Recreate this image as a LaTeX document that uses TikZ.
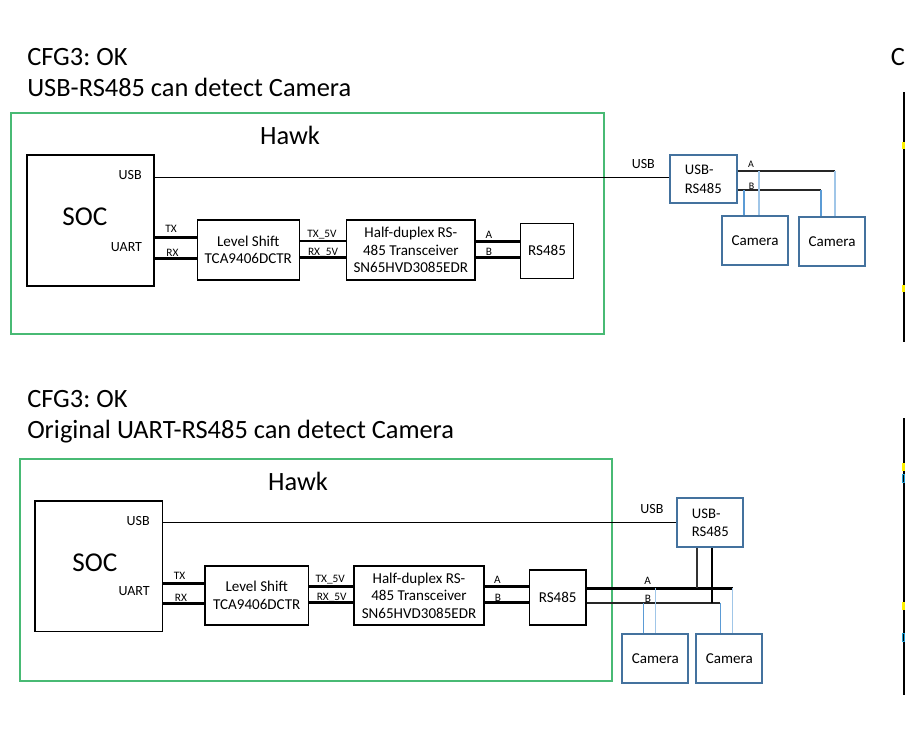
\documentclass[tikz,border=0pt]{standalone}
\usepackage{fontspec}
\setmainfont{Carlito}
\usepackage{tikz}
\usetikzlibrary{positioning,calc}
\usepackage{xcolor}
\frenchspacing
\definecolor{hawkgreen}{RGB}{72,186,116}
\definecolor{extblue}{RGB}{68,114,158}
\definecolor{tapdark}{RGB}{91,155,213}
\definecolor{taplight}{RGB}{160,198,232}
\tikzset{
    hawkBox/.style={
        draw=hawkgreen,
        line width=1.1pt
    },
    blockBox/.style={
        draw=black,
        line width=0.9pt,
        align=center,
        inner sep=0pt,
        font=\fontsize{11.3}{13.2}\selectfont
    },
    extBox/.style={blockBox, draw=extblue, line width=1.3pt},
    pinLabel/.style={inner sep=0pt, font=\fontsize{10.5}{13}\selectfont},
    sigLabel/.style={inner sep=0pt, font=\fontsize{8.5}{10}\selectfont},
    titleText/.style={inner sep=0pt, align=left, font=\fontsize{19.8}{23.4}\selectfont},
    wire/.style={line width=0.8pt},
    sig/.style={line width=2.2pt},
    busline/.style={line width=1.5pt, black!85},
    tapDark/.style={line width=0.8pt, tapdark},
    tapLight/.style={line width=0.8pt, taplight},
}

\begin{document}
\begin{tikzpicture}[x=0.75pt, y=-0.75pt]
    \useasboundingbox (0,0) rectangle (905,744);

    % ---- CFG3 with USB-RS485 ----
    \node[titleText, anchor=west] (capA) at (27,72.5) {CFG3: OK\\USB-RS485 can detect Camera};
    \node[hawkBox, minimum width=444.75pt, minimum height=165.75pt] (hawkA) at (307.5,223.5) {};
    \node[titleText] (hawkAlbl) at (290,135) {Hawk};

    \node[blockBox, minimum width=95.25pt, minimum height=98.25pt] (socA) at (90.5,220.5) {};
    \node[inner sep=0pt, font=\fontsize{20.4}{24}\selectfont] (socAlbl) at (85,217) {SOC};
    \node[pinLabel, anchor=east] (socAusb) at (142,175) {USB};
    \node[pinLabel, anchor=east] (socAuart) at (142.3,246.7) {UART};

    \node[blockBox, minimum width=76.5pt, minimum height=45pt] (lsA) at (248.3,250) {Level Shift\\TCA9406DCTR};
    \node[blockBox, minimum width=96.25pt, minimum height=45pt] (trA) at (410.8,250) {Half-duplex RS-\\485 Transceiver\\SN65HVD3085EDR};
    \node[blockBox, minimum width=39.25pt, minimum height=41.25pt] (rsA) at (547,250.8) {RS485};

    \node[extBox, align=left, minimum width=50pt, minimum height=36pt, font=\fontsize{11}{14}\selectfont] (urA) at (703.3,179) {USB-\\RS485};
    \node[extBox, minimum width=49.5pt, minimum height=36.75pt] (camA) at (755,240.5) {Camera};
    \node[extBox, minimum width=49.5pt, minimum height=36.75pt] (camB) at (832,241.5) {Camera};

    \draw[wire] (socA.east |- 0,177.3) -- (urA.west |- 0,177.3);
    \node[pinLabel] (usbAlbl) at (643.3,164) {USB};

    \draw[sig] (socA.east |- 0,237.3) -- (lsA.west |- 0,237.3);
    \draw[sig] (socA.east |- 0,258.3) -- (lsA.west |- 0,258.3);
    \node[sigLabel] (txA) at (171,229.3) {TX};
    \node[sigLabel] (rxA) at (172.5,252.7) {RX};

    \draw[sig] (lsA.east |- 0,241) -- (trA.west |- 0,241);
    \draw[sig] (lsA.east |- 0,257.7) -- (trA.west |- 0,257.7);
    \node[sigLabel] (tx5A) at (322,235) {TX\_5V};
    \node[sigLabel] (rx5A) at (323,252.7) {RX\_5V};

    \draw[sig] (trA.east |- 0,241.7) -- (rsA.west |- 0,241.7);
    \draw[sig] (trA.east |- 0,257.7) -- (rsA.west |- 0,257.7);
    \node[sigLabel] (lineAa) at (489,235) {A};
    \node[sigLabel] (lineAb) at (489,251.7) {B};

    % bus to the cameras
    \coordinate (busAa) at (835,171);
    \coordinate (busAb) at (821,190);
    \draw[busline] (urA.east |- busAa) -- (busAa);
    \draw[busline] (urA.east |- busAb) -- (busAb);
    \node[sigLabel, font=\fontsize{7.5}{9}\selectfont] (busAalbl) at (751,164) {A};
    \node[sigLabel, font=\fontsize{7.5}{9}\selectfont] (busAblbl) at (751.7,186) {B};
    \draw[tapLight] (busAa) -- (camB.north -| busAa);
    \draw[tapDark] (busAb) -- (camB.north -| busAb);
    \draw[tapLight] (busAa -| 759,0) -- (camA.north -| 759,0);
    \draw[tapDark] (busAb -| 744,0) -- (camA.north -| 744,0);

    % ---- CFG3 with original UART-RS485 ----
    \node[titleText, anchor=west] (capB) at (27,416.5) {CFG3: OK\\Original UART-RS485 can detect Camera};
    \node[hawkBox, minimum width=444pt, minimum height=166.5pt] (hawkB) at (316,570) {};
    \node[titleText] (hawkBlbl) at (298,481) {Hawk};

    \node[blockBox, minimum width=95.75pt, minimum height=98pt] (socB) at (98.8,566.3) {};
    \node[inner sep=0pt, font=\fontsize{20.4}{24}\selectfont] (socBlbl) at (95,563) {SOC};
    \node[pinLabel, anchor=east] (socBusb) at (150,521) {USB};
    \node[pinLabel, anchor=east] (socBuart) at (150,591) {UART};

    \node[blockBox, minimum width=77.5pt, minimum height=44.25pt] (lsB) at (256.7,595.5) {Level Shift\\TCA9406DCTR};
    \node[blockBox, minimum width=97.5pt, minimum height=44.25pt] (trB) at (419,595.5) {Half-duplex RS-\\485 Transceiver\\SN65HVD3085EDR};
    \node[blockBox, minimum width=42.5pt, minimum height=41.25pt] (rsB) at (557.7,597.5) {RS485};

    \node[extBox, align=left, minimum width=49.5pt, minimum height=36.75pt, font=\fontsize{11}{12.8}\selectfont] (urB) at (710.3,522.8) {USB-\\RS485};
    \node[extBox, minimum width=49.5pt, minimum height=36.5pt] (camC) at (655.3,658.3) {Camera};
    \node[extBox, minimum width=49.5pt, minimum height=36.5pt] (camD) at (729.3,658.3) {Camera};

    \draw[wire] (socB.east |- 0,522.8) -- (urB.west |- 0,522.8);
    \node[pinLabel] (usbBlbl) at (652,509.3) {USB};

    \draw[sig] (socB.east |- 0,583.3) -- (lsB.west |- 0,583.3);
    \draw[sig] (socB.east |- 0,603.3) -- (lsB.west |- 0,603.3);
    \node[sigLabel] (txB) at (179.5,575.7) {TX};
    \node[sigLabel] (rxB) at (181,597.7) {RX};

    \draw[sig] (lsB.east |- 0,586.7) -- (trB.west |- 0,586.7);
    \draw[sig] (lsB.east |- 0,602.7) -- (trB.west |- 0,602.7);
    \node[sigLabel] (tx5B) at (330.3,580) {TX\_5V};
    \node[sigLabel] (rx5B) at (331.7,597.7) {RX\_5V};

    \draw[sig] (trB.east |- 0,586.7) -- (rsB.west |- 0,586.7);
    \draw[sig] (trB.east |- 0,602.7) -- (rsB.west |- 0,602.7);
    \node[sigLabel] (lineBa) at (497.5,580) {A};
    \node[sigLabel] (lineBb) at (498,597.7) {B};

    % shared bus from the on-board RS485
    \coordinate (busBa) at (732.7,588.3);
    \coordinate (busBb) at (720.3,603.3);
    \draw[line width=2.2pt] (rsB.east |- busBa) -- (busBa);
    \draw[busline] (rsB.east |- busBb) -- (busBb);
    \node[sigLabel] (busBalbl) at (647.7,581) {A};
    \node[sigLabel] (busBblbl) at (648,599.3) {B};
    \draw[busline, black!80] (urB.south -| 697,0) -- (busBa -| 697,0);
    \draw[busline, black] (urB.south -| 712,0) -- (busBb -| 712,0);
    \draw[tapLight] (busBa) -- (camD.north -| busBa);
    \draw[tapDark] (busBb) -- (camD.north -| busBb);
    \draw[tapLight] (busBa -| 655.7,0) -- (camC.north -| 655.7,0);
    \draw[tapDark] (busBb -| 643.3,0) -- (camC.north -| 643.3,0);

    % cut-off edge of the next slide
    \node[titleText, anchor=west] (cutC) at (890.5,57) {C};
    \draw[line width=1.5pt] (903.5,92) -- (903.5,342);
    \fill[yellow] (902,142) rectangle (905,149);
    \fill[yellow] (902,285) rectangle (905,292);
    \draw[line width=1.5pt] (903.5,418) -- (903.5,695);
    \fill[yellow] (902,463) rectangle (905,471);
    \fill[yellow] (902,602) rectangle (905,610);
    \draw[cyan!70!teal, line width=0.5pt] (902,474) rectangle (904.5,482);
    \draw[cyan!70!teal, line width=0.5pt] (902,633) rectangle (904.5,641);
\end{tikzpicture}
\end{document}
